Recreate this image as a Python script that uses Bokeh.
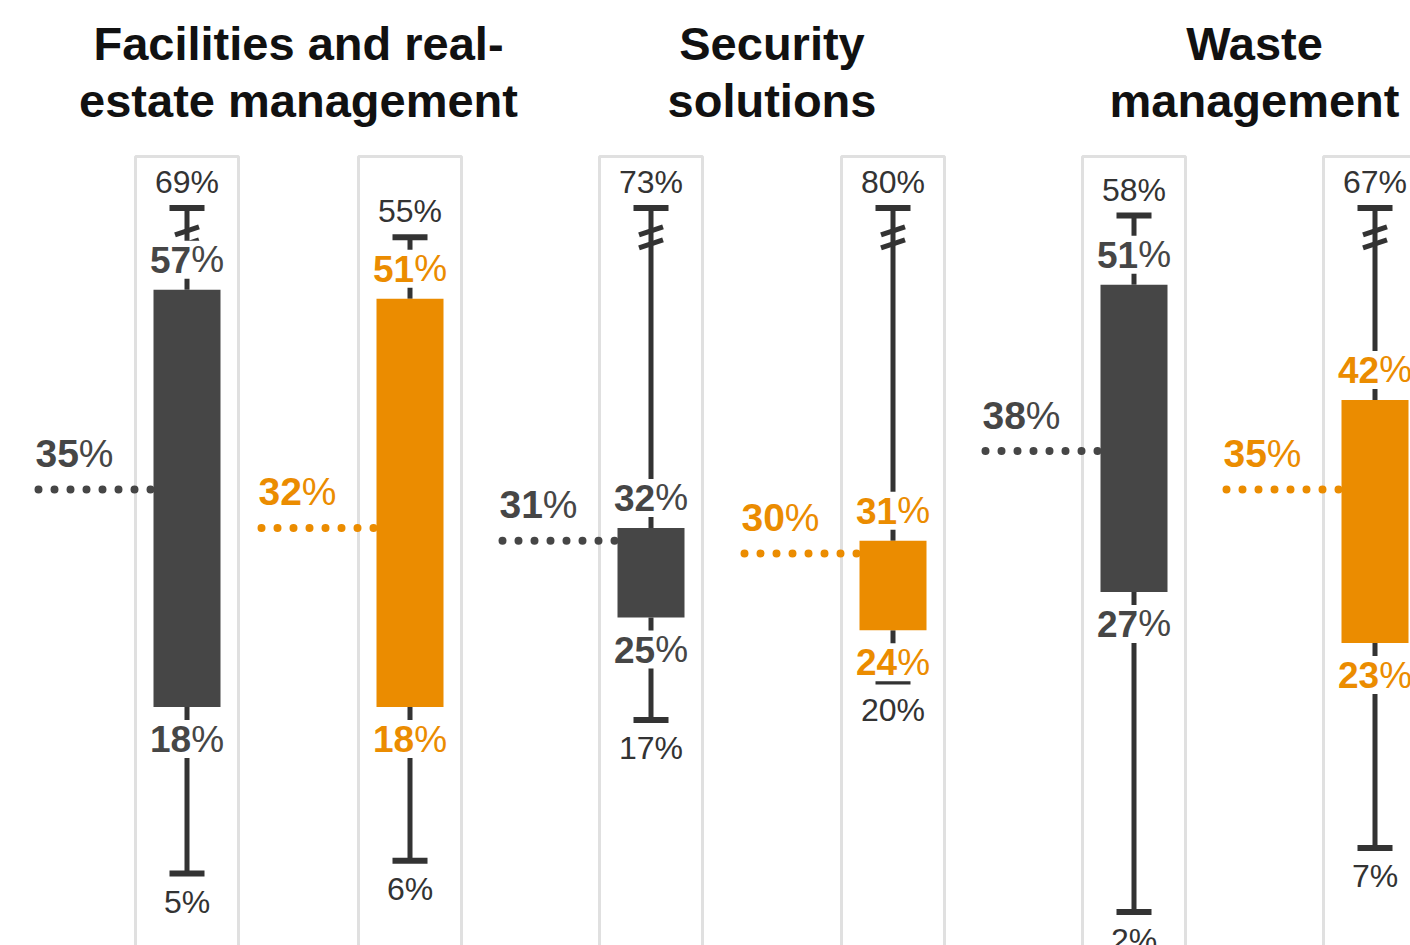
from bokeh.plotting import figure
from bokeh.models import Range1d
from bokeh.embed import file_html
from bokeh.resources import INLINE
from bokeh.core.properties import value

# ---------------- data ----------------
title_line1 = ["Facilities and real-", "Security", "Waste"]
title_line2 = ["estate management", "solutions", "management"]
series = ["dark", "orange"]

minimum = [5, 6, 17, 20, 2, 7]
q1 = [18, 18, 25, 24, 27, 23]
median = [35, 32, 31, 30, 38, 35]
q3 = [57, 51, 32, 31, 51, 42]
maximum = [69, 55, 73, 80, 58, 67]
# where the upper marks sit on the (broken) drawing scale
q3_shown = [50.6, 49.9, 32, 31, 51, 42]
max_shown = [57, 54.7, 57, 57, 56.4, 57]

# ---------------- styling / layout ----------------
DARK = "#464646"
ORANGE = "#EB8C00"
WHISKER = "#333333"
PANEL = "#e0e0e0"
FONT = value("Liberation Sans")

W, H = 1410, 945
PX = 12.8            # pixels per percentage point
Y0 = 937             # pixel row of 0 %


def vy(py):
    return (Y0 - py) / PX


group_center = [298, 771.5, 1254]
pair_half = [111.5, 121, 120.5]
cx = []
col = []
for g in range(3):
    cx.append(group_center[g] - pair_half[g])
    cx.append(group_center[g] + pair_half[g])
    col += [DARK, ORANGE]

BOX_HALF = 33.5
PANEL_HALF = 51.5
CAP_HALF = 17.5

p = figure(width=W, height=H, x_range=Range1d(0, W), y_range=Range1d(vy(H), vy(0)),
           output_backend="svg", toolbar_location=None, min_border=0,
           x_axis_type=None, y_axis_type=None)
p.outline_line_color = None
p.background_fill_color = "white"
p.border_fill_color = "white"

n = len(cx)

# panels
p.quad(left=[c - PANEL_HALF for c in cx], right=[c + PANEL_HALF for c in cx],
       top=[vy(156)] * n, bottom=[vy(H + 10)] * n, fill_color=None,
       line_color=PANEL, line_width=3)

# median dotted lines
p.segment(x0=[c - BOX_HALF - 115 for c in cx], x1=[c - BOX_HALF + 10 for c in cx],
          y0=median, y1=median, line_color=col, line_width=8,
          line_cap="round", line_dash="0 16")

# whiskers
p.segment(x0=cx, x1=cx, y0=q1, y1=minimum, line_color=WHISKER, line_width=5)
p.segment(x0=cx, x1=cx, y0=q3_shown, y1=max_shown, line_color=WHISKER, line_width=5)
# caps
p.segment(x0=[c - CAP_HALF for c in cx], x1=[c + CAP_HALF for c in cx],
          y0=minimum, y1=minimum, line_color=WHISKER, line_width=6)
p.segment(x0=[c - CAP_HALF for c in cx], x1=[c + CAP_HALF for c in cx],
          y0=max_shown, y1=max_shown, line_color=WHISKER, line_width=6)

# break marks on truncated whiskers
bx0, bx1, by0, by1 = [], [], [], []
for i in range(n):
    if maximum[i] - max_shown[i] > 3:
        for off in (23, 36):
            yc = max_shown[i] - off / PX
            bx0.append(cx[i] - 12)
            bx1.append(cx[i] + 12)
            by0.append(yc - 4 / PX)
            by1.append(yc + 4 / PX)
p.segment(x0=bx0, x1=bx1, y0=by0, y1=by1, line_color=WHISKER, line_width=5)

# label positions on the whiskers
q3_lab_y = [v + 30 / PX for v in q3_shown]
q1_lab_y = [v - 32 / PX for v in q1]

# white gaps in the whiskers behind the labels
p.rect(x=cx + cx, y=q3_lab_y + q1_lab_y, width=40, height=38,
       width_units="screen", height_units="screen",
       fill_color="white", line_color=None)

# boxes
p.quad(left=[c - BOX_HALF for c in cx], right=[c + BOX_HALF for c in cx],
       bottom=q1, top=q3_shown, fill_color=col, line_color=None)

# ---------------- labels ----------------
DIG = 0.556
PCT = 0.889


def split_label(xs, ys, vals, colors, fs, align="center"):
    ax = []
    for x, v in zip(xs, vals):
        wd = len(str(v)) * DIG * fs
        wp = PCT * fs
        if align == "center":
            ax.append(x - (wd + wp) / 2 + wd)
        else:
            ax.append(x + wd)
    kw = dict(text_font=FONT, text_font_size=f"{fs}px", text_baseline="middle")
    p.text(x=ax, y=ys, text=[str(v) for v in vals], text_color=colors,
           text_align="right", text_font_style="bold", **kw)
    p.text(x=ax, y=ys, text=["%"] * len(vals), text_color=colors,
           text_align="left", text_font_style="normal", **kw)


# Q3 and Q1 labels (bold)
split_label(cx, q3_lab_y, q3, col, 37)
split_label(cx, q1_lab_y, q1, col, 37)

# max / min labels (regular)
p.text(x=cx, y=[v + 26 / PX for v in max_shown], text=[f"{v}%" for v in maximum],
       text_color=WHISKER, text_font=FONT, text_font_size="32px",
       text_align="center", text_baseline="middle")
p.text(x=cx, y=[v - 28 / PX for v in minimum], text=[f"{v}%" for v in minimum],
       text_color=WHISKER, text_font=FONT, text_font_size="32px",
       text_align="center", text_baseline="middle")

# median labels
split_label([c - BOX_HALF - 118 for c in cx], [v + 36 / PX for v in median], median,
            col, 39, align="left")

# titles
p.text(x=group_center, y=[vy(43)] * 3, text=title_line1,
       text_color="#111111", text_font=FONT, text_font_size="47px",
       text_font_style="bold", text_align="center", text_baseline="middle")
p.text(x=group_center, y=[vy(100)] * 3, text=title_line2,
       text_color="#111111", text_font=FONT, text_font_size="47px",
       text_font_style="bold", text_align="center", text_baseline="middle")

open("out.html", "w").write(file_html(p, INLINE))
